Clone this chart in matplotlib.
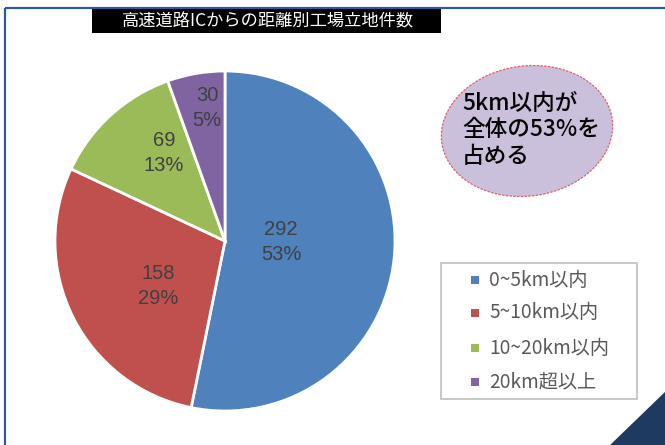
import matplotlib
matplotlib.use("Agg")
import matplotlib.pyplot as plt
from matplotlib.patches import Rectangle, Ellipse, Polygon
import numpy as np

plt.rcParams['font.family'] = ['Noto Sans CJK JP', 'DejaVu Sans']

title = "高速道路ICからの距離別工場立地件数"
categories = ["0~5km以内", "5~10km以内", "10~20km以内", "20km超以上"]
values = [292, 158, 69, 30]
colors = ["#4F81BD", "#C0504D", "#9BBB59", "#8064A2"]
note = "5km以内が\n全体の53%を\n占める"

W, H = 665, 445
fig = plt.figure(figsize=(W / 100, H / 100), dpi=100)

# overlay axes in pixel coordinates
ov = fig.add_axes([0, 0, 1, 1])
ov.set_xlim(0, W)
ov.set_ylim(H, 0)
ov.axis('off')

# blue frame
ov.add_patch(Rectangle((4.5, 7.5), 700, 500, fill=False, edgecolor="#2E5A9A", lw=1.6, zorder=1))
# title bar
ov.add_patch(Rectangle((92, 9), 349, 24, facecolor="black", edgecolor="none", zorder=2))
ov.text(268, 21, title, color="white", fontsize=12.4, ha='center', va='center', zorder=3)

# pie
cx, cy, r = 225, 241, 170
pa = fig.add_axes([(cx - r) / W, (H - cy - r) / H, 2 * r / W, 2 * r / H])
wedges, _ = pa.pie(values, colors=colors, startangle=90, counterclock=False,
                   wedgeprops=dict(edgecolor="white", linewidth=2), radius=1)
pa.set_xlim(-1, 1)
pa.set_ylim(-1, 1)
pa.set_aspect('equal')

total = sum(values)
label_r = [0.33, 0.475, 0.632, 0.79]
label_dang = [4.7, 7.2, -7.7, -2.1]
for w, v, lr, da in zip(wedges, values, label_r, label_dang):
    ang = np.deg2rad((w.theta1 + w.theta2) / 2 + da)
    pa.text(lr * np.cos(ang), lr * np.sin(ang), f"{v}\n{round(100 * v / total)}%",
            ha='center', va='center', fontsize=14.5, color="#404040", linespacing=1.4,
            family=['Liberation Sans', 'DejaVu Sans'])

# legend (drawn in pixel coordinates)
ov.add_patch(Rectangle((441, 262.5), 196, 136, facecolor="white", edgecolor="#BFBFBF",
                       lw=1.2, zorder=4))
leg_y = [280, 313, 348, 382]
for c, lab, y in zip(colors, categories, leg_y):
    ov.add_patch(Rectangle((470.5, y - 4), 8, 8, facecolor=c, edgecolor="none", zorder=5))
    ov.text(489, y, lab, fontsize=13.8, color="#595959", ha='left', va='center', zorder=5)

# callout ellipse
ov.add_patch(Ellipse((527, 131), 172, 130, angle=-8, facecolor="#CBC0DB",
                     edgecolor="#E06070", lw=0.9, ls=(0, (2, 1)), zorder=4))
ov.text(462, 130, note, fontsize=16.3, color="black", ha='left', va='center',
        linespacing=1.22, zorder=5, fontweight='medium')

# corner triangle
ov.add_patch(Polygon([(608, 447), (667, 390), (667, 447)], closed=True,
                     facecolor="#1F3A60", edgecolor="none", zorder=6))

fig.savefig("out.png", dpi=100)
